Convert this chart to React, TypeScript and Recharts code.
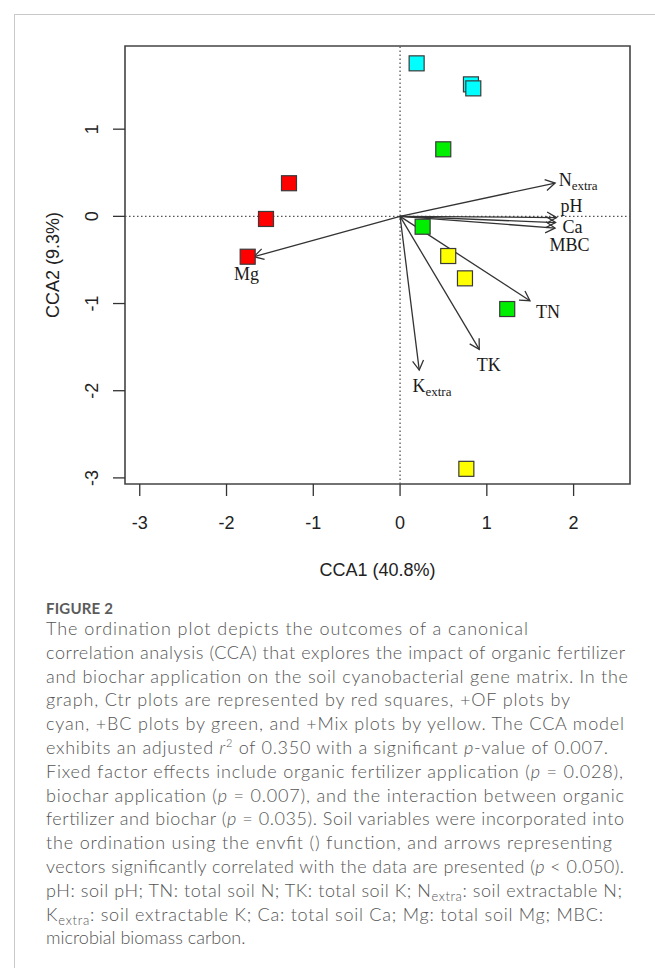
import React from 'react';
import { ScatterChart, Scatter, XAxis, YAxis, ReferenceLine, ReferenceArea, Label } from 'recharts';

// ---- data ----
const ctrPoints = [
  { x: -1.28, y: 0.38 },
  { x: -1.545, y: -0.03 },
  { x: -1.756, y: -0.463 },
];
const ofPoints = [
  { x: 0.191, y: 1.755 },
  { x: 0.817, y: 1.514 },
  { x: 0.844, y: 1.468 },
];
const bcPoints = [
  { x: 0.498, y: 0.769 },
  { x: 0.26, y: -0.119 },
  { x: 1.235, y: -1.063 },
];
const mixPoints = [
  { x: 0.555, y: -0.455 },
  { x: 0.748, y: -0.711 },
  { x: 0.764, y: -2.896 },
];

const vectorNames = ['Nextra', 'pH', 'Ca', 'MBC', 'TN', 'TK', 'Kextra', 'Mg'];
const vectorMain = ['N', 'pH', 'Ca', 'MBC', 'TN', 'TK', 'K', 'Mg'];
const vectorSub = ['extra', '', '', '', '', '', 'extra', ''];
const vectorX = [1.787, 1.804, 1.792, 1.786, 1.497, 0.913, 0.221, -1.684];
const vectorY = [0.382, -0.014, -0.071, -0.134, -0.968, -1.525, -1.763, -0.463];

const xTicks = [-3, -2, -1, 0, 1, 2];
const yTicks = [-3, -2, -1, 0, 1];
const xDomain = [-3.17, 2.65];
const yDomain = [-3.07, 1.954];

const xTitle = 'CCA1 (40.8%)';
const yTitle = 'CCA2 (9.3%)';

// ---- styles ----
const labelOffsets: Record<string, [number, number]> = {
  Nextra: [23, -3],
  pH: [15, -12],
  Ca: [17, 4.5],
  MBC: [14.5, 17],
  TN: [18, 11],
  TK: [9.4, 15.7],
  Kextra: [12.7, 16],
  Mg: [-7.5, 17.5],
};

const INK = '#333';
const SANS = '"Liberation Sans", Arial, sans-serif';
const SERIF = '"Liberation Serif", "Times New Roman", serif';
const CAP_FONT = 'Lato, "Open Sans", sans-serif';

const square = (fill: string) => (p: any) => (
  <rect x={p.cx - 7.5} y={p.cy - 7.5} width={15} height={15} fill={fill} stroke="#3a3a3a" strokeWidth={1.2} />
);

const arrowShape = (i: number) => (p: any) => {
  const { x1, y1, x2, y2 } = p;
  const ang = Math.atan2(y2 - y1, x2 - x1);
  const L = 11;
  const a = Math.PI / 6;
  const hx1 = x2 - L * Math.cos(ang - a);
  const hy1 = y2 - L * Math.sin(ang - a);
  const hx2 = x2 - L * Math.cos(ang + a);
  const hy2 = y2 - L * Math.sin(ang + a);
  const [dx, dy] = labelOffsets[vectorNames[i]];
  return (
    <g>
      <line x1={x1} y1={y1} x2={x2} y2={y2} stroke={INK} strokeWidth={1.3} />
      <polyline points={`${hx1},${hy1} ${x2},${y2} ${hx2},${hy2}`} fill="none" stroke={INK} strokeWidth={1.3} />
      <text x={x2 + dx} y={y2 + dy} textAnchor="middle" dominantBaseline="central" fontFamily={SERIF} fontSize={18} fill="#1a1a1a">
        {vectorMain[i]}
        {vectorSub[i] ? <tspan dy={5} fontSize={13}>{vectorSub[i]}</tspan> : null}
      </text>
    </g>
  );
};

const YTick = (p: any) => (
  <text
    transform={`translate(${p.x - 21},${p.y}) rotate(-90)`}
    textAnchor="middle"
    dominantBaseline="central"
    fontFamily={SANS}
    fontSize={18}
    fill="#222"
  >
    {p.payload.value}
  </text>
);

const it = (s: string) => <tspan fontStyle="italic">{s}</tspan>;

const captionLines: React.ReactNode[] = [
  'The ordination plot depicts the outcomes of a canonical',
  'correlation analysis (CCA) that explores the impact of organic fertilizer',
  'and biochar application on the soil cyanobacterial gene matrix. In the',
  'graph, Ctr plots are represented by red squares, +OF plots by',
  'cyan, +BC plots by green, and +Mix plots by yellow. The CCA model',
  <>
    exhibits an adjusted {it('r')}
    <tspan dy={-7} fontSize={11}>2</tspan>
    <tspan dy={7}> of 0.350 with a significant </tspan>
    {it('p')}-value of 0.007.
  </>,
  <>Fixed factor effects include organic fertilizer application ({it('p')} = 0.028),</>,
  <>biochar application ({it('p')} = 0.007), and the interaction between organic</>,
  <>fertilizer and biochar ({it('p')} = 0.035). Soil variables were incorporated into</>,
  'the ordination using the envfit () function, and arrows representing',
  <>vectors significantly correlated with the data are presented ({it('p')} &lt; 0.050).</>,
  <>
    pH: soil pH; TN: total soil N; TK: total soil K; N
    <tspan dy={4} fontSize={13}>extra</tspan>
    <tspan dy={-4}>: soil extractable N;</tspan>
  </>,
  <>
    K<tspan dy={4} fontSize={13}>extra</tspan>
    <tspan dy={-4}>: soil extractable K; Ca: total soil Ca; Mg: total soil Mg; MBC:</tspan>
  </>,
  'microbial biomass carbon.',
];
const captionWidths = [482, 579, 582, 524, 578, 562, 577, 578, 578, 566, 578, 576, 557, 0];

export default function App() {
  return (
    <div style={{ position: 'absolute', left: 0, top: 0, width: 655, height: 968, background: '#fff', overflow: 'hidden' }}>
      <div style={{ position: 'absolute', left: 14, top: 14, width: 660, height: 980, borderTop: '1px solid #c9c9c9', borderLeft: '1px solid #c9c9c9' }} />
      <div style={{ position: 'absolute', left: 0, top: 0 }}>
        <ScatterChart width={655} height={600} margin={{ top: 46, right: 25, bottom: 0, left: 0 }}>
          <XAxis
            type="number"
            dataKey="x"
            domain={xDomain}
            ticks={xTicks}
            allowDataOverflow
            axisLine={false}
            tickSize={12}
            tickMargin={20}
            tickLine={{ stroke: INK, strokeWidth: 1.3 }}
            tick={{ fontFamily: SANS, fontSize: 18, fill: '#222' }}
            height={116}
          >
            <Label
              content={(props: any) => {
                const vb = props.viewBox || { x: 125, y: 484, width: 505 };
                return (
                  <text x={vb.x + vb.width / 2} y={vb.y + 86} textAnchor="middle" dominantBaseline="central" fontFamily={SANS} fontSize={18} fill="#222">
                    {xTitle}
                  </text>
                );
              }}
            />
          </XAxis>
          <YAxis
            type="number"
            dataKey="y"
            domain={yDomain}
            ticks={yTicks}
            allowDataOverflow
            axisLine={false}
            tickSize={12}
            tickMargin={0}
            tickLine={{ stroke: INK, strokeWidth: 1.3 }}
            tick={<YTick />}
            width={125}
          >
            <Label
              content={(props: any) => {
                const vb = props.viewBox || { x: 0, y: 46, width: 125, height: 438 };
                const cx = vb.x + 53;
                const cy = vb.y + vb.height / 2;
                return (
                  <text transform={`translate(${cx},${cy}) rotate(-90)`} textAnchor="middle" dominantBaseline="central" fontFamily={SANS} fontSize={18} fill="#222">
                    {yTitle}
                  </text>
                );
              }}
            />
          </YAxis>
          <ReferenceLine x={0} stroke="#555" strokeWidth={1.3} strokeDasharray="1.5 2.5" />
          <ReferenceLine y={0} stroke="#555" strokeWidth={1.3} strokeDasharray="1.5 2.5" />
          <Scatter data={ctrPoints} shape={square('#ff0000')} isAnimationActive={false} />
          <Scatter data={ofPoints} shape={square('#00ffff')} isAnimationActive={false} />
          <Scatter data={bcPoints} shape={square('#00ee00')} isAnimationActive={false} />
          <Scatter data={mixPoints} shape={square('#ffff00')} isAnimationActive={false} />
          {vectorNames.map((n, i) => (
            <ReferenceLine
              key={n}
              segment={[{ x: 0, y: 0 }, { x: vectorX[i], y: vectorY[i] }]}
              shape={arrowShape(i)}
            />
          ))}
          <ReferenceArea x1={xDomain[0]} x2={xDomain[1]} y1={yDomain[0]} y2={yDomain[1]} fill="none" fillOpacity={0} stroke="#444" strokeWidth={1.6} />
        </ScatterChart>
      </div>
      <div style={{ position: 'absolute', left: 46, top: 598, fontFamily: CAP_FONT, fontWeight: 700, fontSize: 15, lineHeight: '20px', color: '#5b5b5b', letterSpacing: 0.2 }}>
        FIGURE 2
      </div>
      <svg width={655} height={968} style={{ position: 'absolute', left: 0, top: 0 }}>
        {captionLines.map((ln, i) => (
          <text
            key={i}
            x={46}
            y={635 + i * 23.8}
            fontFamily={CAP_FONT}
            fontWeight={300}
            fontSize={18}
            fill="#555"
            {...(captionWidths[i] ? { textLength: captionWidths[i], lengthAdjust: 'spacing' } : {})}
          >
            {ln}
          </text>
        ))}
      </svg>
    </div>
  );
}
